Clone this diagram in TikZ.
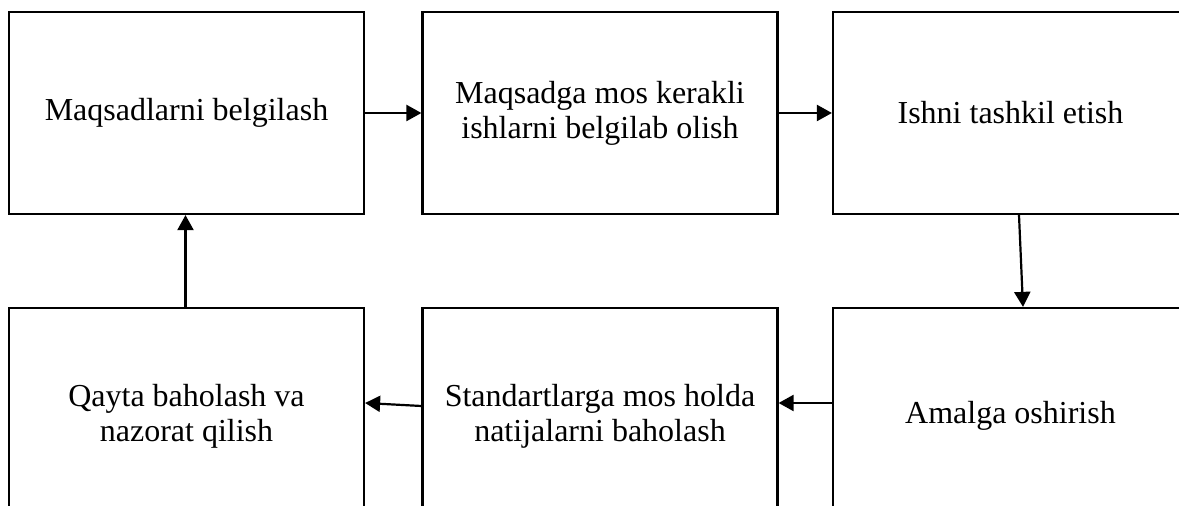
\documentclass[tikz,border=0pt]{standalone}
\usepackage{fontspec}
\setmainfont{Liberation Serif}
\usetikzlibrary{arrows.meta}

\begin{document}
\begin{tikzpicture}[x=1pt,y=1pt,
	blok/.style={draw, line width=1.1pt, minimum width=177.5pt, minimum height=101pt,
		align=center, inner sep=0pt, font=\fontsize{16}{17.5}\selectfont},
	blokpast/.style={blok, minimum height=108pt},
	strel/.style={line width=1.1pt, -{Triangle[length=7.5pt,width=8pt]}}]
	\clip (0,0) rectangle (589.5,-253);
	% top row
	\node[blok] (maqsad) at (93.25,-56.5) {Maqsadlarni belgilash};
	\node[blok] (ishlar) at (300,-56.5) {Maqsadga mos kerakli\\ishlarni belgilab olish};
	\node[blok] (ishni) at (505.25,-56.5) {Ishni tashkil etish};
	% bottom row
	\node[blokpast] (qayta) at (93.25,-208) {Qayta baholash va\\nazorat qilish};
	\node[blokpast] (standart) at (300,-208) {Standartlarga mos holda\\natijalarni baholash};
	\node[blokpast] (amalga) at (505.25,-208) {Amalga oshirish};
	% arrows
	\draw[strel] (maqsad.east) -- (ishlar.west);
	\draw[strel] (ishlar.east) -- (ishni.west);
	\draw[strel] ([xshift=4.25pt]ishni.south) -- ([xshift=6.25pt]amalga.north);
	\draw[strel] ([yshift=6.5pt]amalga.west) -- ([yshift=6.5pt]standart.east);
	\draw[strel] ([yshift=5pt]standart.west) -- ([yshift=6.5pt]qayta.east);
	\draw[strel] ([xshift=-0.5pt]qayta.north) -- ([xshift=-0.5pt]maqsad.south);
\end{tikzpicture}
\end{document}
